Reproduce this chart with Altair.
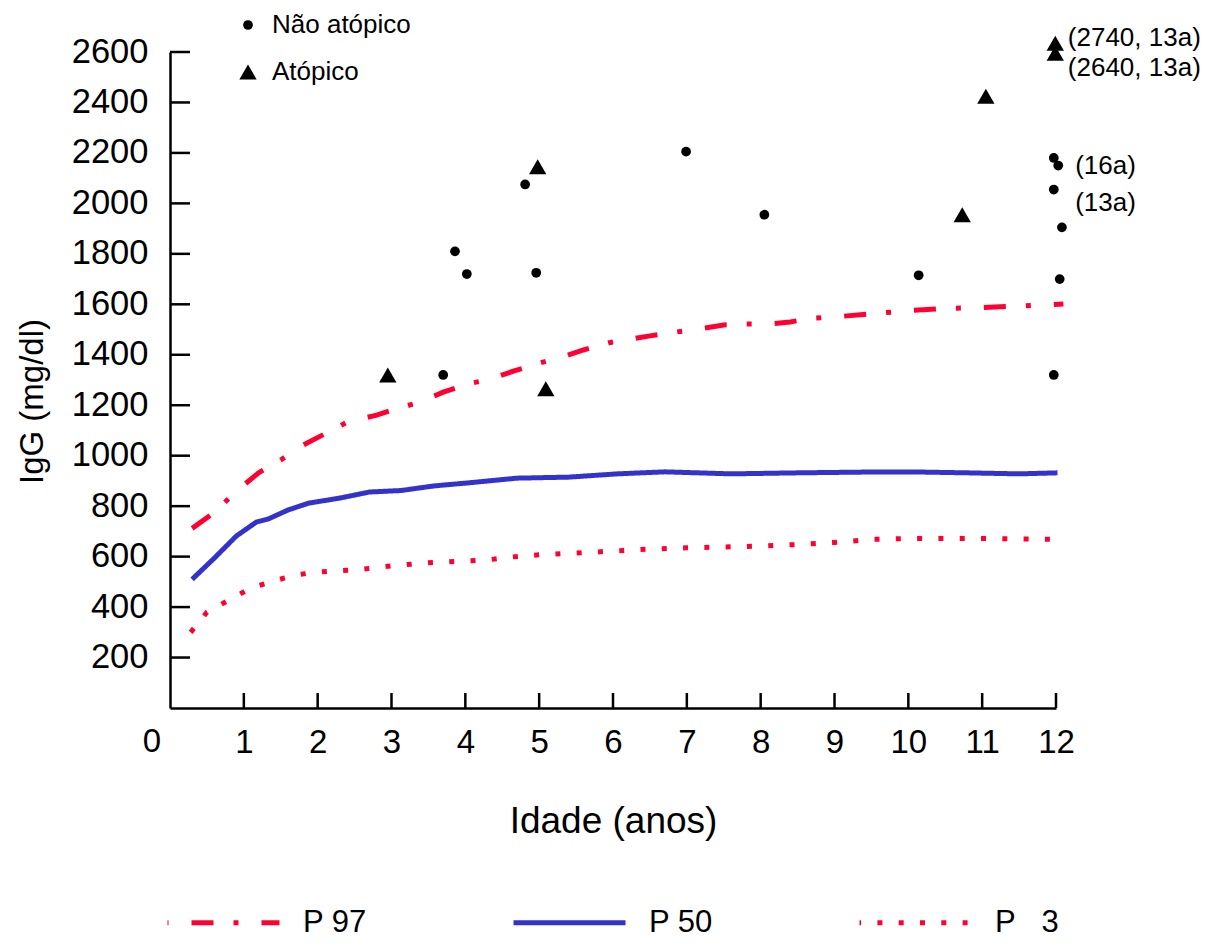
import altair as alt
import pandas as pd

# ---- data ----
group_names = ["Não atópico", "Atópico"]
nonatopic_age = [3.70, 3.86, 4.02, 4.81, 4.96, 6.99, 8.05, 10.14, 11.97, 12.03, 11.97, 12.08, 12.05, 11.97]
nonatopic_igg = [1320, 1810, 1720, 2075, 1725, 2205, 1955, 1715, 2180, 2150, 2055, 1905, 1700, 1320]
atopic_age = [2.95, 4.98, 5.09, 10.73, 11.05, 11.99, 11.99]
atopic_igg = [1320, 2145, 1265, 1955, 2425, 2635, 2595]

series_names = ["P 97", "P 50", "P\u00a0\u00a0\u00a03"]
p97_age = [0.30, 0.60, 0.90, 1.20, 1.50, 1.80, 2.20, 2.40, 2.80, 3.10, 3.40, 3.70, 4.05, 4.30, 4.65,
           5.00, 5.30, 5.60, 5.95, 6.20, 6.50, 6.85, 7.15, 7.50, 7.80, 8.10, 8.40, 8.70, 9.00, 9.50,
           10.00, 10.50, 11.00, 11.50, 12.10]
p97_igg = [712, 775, 860, 932, 983, 1042, 1102, 1133, 1161, 1189, 1213, 1252, 1286, 1300, 1335,
           1367, 1390, 1419, 1448, 1460, 1475, 1490, 1502, 1518, 1522, 1522, 1530, 1545, 1550, 1562,
           1575, 1584, 1587, 1593, 1601]
p50_age = [0.30, 0.60, 0.90, 1.17, 1.33, 1.60, 1.88, 2.30, 2.70, 3.13, 3.57, 4.03, 4.70, 5.40,
           6.06, 6.70, 7.60, 8.50, 9.40, 10.20, 10.80, 11.50, 12.02]
p50_igg = [510, 594, 682, 737, 749, 785, 812, 832, 856, 862, 880, 892, 911, 915,
           928, 936, 928, 932, 935, 935, 932, 928, 932]
p3_age = [0.28, 0.50, 0.80, 1.10, 1.40, 1.70, 2.00, 2.50, 3.00, 3.50, 4.00, 4.30, 4.60, 5.00,
          5.50, 6.00, 6.50, 7.00, 7.50, 8.00, 8.50, 9.00, 9.50, 10.00, 11.00, 12.05]
p3_igg = [300, 380, 428, 476, 503, 527, 539, 547, 563, 576, 583, 587, 598, 607,
          614, 622, 630, 635, 638, 642, 648, 656, 668, 672, 672, 668]

x_ticks = list(range(1, 13))
x_origin_label = ["0"]
y_ticks = list(range(200, 2601, 200))

ann_text = ["(2740, 13a)", "(2640, 13a)", "(16a)", "(13a)"]
ann_age = [12.16, 12.16, 12.26, 12.26]
ann_igg = [2655, 2536, 2148, 2001]

# ---- tables ----
lines_df = pd.concat([
    pd.DataFrame({"age": p97_age, "igg": p97_igg, "series": series_names[0]}),
    pd.DataFrame({"age": p50_age, "igg": p50_igg, "series": series_names[1]}),
    pd.DataFrame({"age": p3_age, "igg": p3_igg, "series": series_names[2]}),
])
points_df = pd.concat([
    pd.DataFrame({"age": nonatopic_age, "igg": nonatopic_igg, "group": group_names[0]}),
    pd.DataFrame({"age": atopic_age, "igg": atopic_igg, "group": group_names[1]}),
])
ann_df = pd.DataFrame({"age": ann_age, "igg": ann_igg, "label": ann_text})
ytick_df = pd.DataFrame({"tv": y_ticks})
xtick_df = pd.DataFrame({"tv": x_ticks})
zero_df = pd.DataFrame({"age": [0], "igg": [0], "label": x_origin_label})

FONT = "Liberation Sans"
RED = "#ff0033"
BLUE = "#3333cc"

xscale = alt.Scale(domain=[0, 12], nice=False, zero=False)
yscale = alt.Scale(domain=[0, 2600], nice=False)

xaxis = alt.Axis(values=x_ticks, format="d", ticks=False, tickSize=0, labelFontSize=33,
                 labelPadding=18, domainWidth=2.5, domainColor="black", grid=False,
                 labelFlush=False, labelOverlap=False, title="Idade (anos)", titleFontSize=37,
                 titleFontWeight="normal", titleY=124, titleBaseline="alphabetic")
yaxis = alt.Axis(values=y_ticks, format="d", ticks=False, tickSize=0, labelFontSize=34.5,
                 labelPadding=22, domainWidth=2.5, domainColor="black", grid=False,
                 labelFlush=False, labelOverlap=False, title="IgG (mg/dl)", titleFontSize=33,
                 titleFontWeight="normal", titleAngle=270, titleX=-138, titleY=349,
                 titleAlign="center", titleBaseline="middle")

line_legend = alt.Legend(orient="none", legendX=-5, legendY=812, direction="horizontal",
                         columns=3, symbolType="stroke", symbolSize=112 * 112,
                         symbolStrokeWidth=5, symbolDashOffset=46, labelFontSize=31,
                         labelOffset=21, columnPadding=136, title=None, padding=0,
                         labelColor="black", labelFont=FONT, labelLimit=300)

lines = alt.Chart(lines_df).mark_line(strokeWidth=5, strokeCap="butt").encode(
    x=alt.X("age:Q", scale=xscale, axis=xaxis),
    y=alt.Y("igg:Q", scale=yscale, axis=yaxis),
    color=alt.Color("series:N", scale=alt.Scale(domain=series_names, range=[RED, BLUE, RED]),
                    legend=line_legend),
    strokeDash=alt.StrokeDash("series:N",
                              scale=alt.Scale(domain=series_names,
                                              range=[[22, 20, 5, 23], [1, 0], [5, 16.3]]),
                              legend=line_legend),
    detail="series:N",
)

pt_legend = alt.Legend(orient="none", legendX=65, legendY=-40, direction="vertical",
                       title=None, labelFontSize=26, labelOffset=11, rowPadding=21, padding=0,
                       symbolFillColor="black", symbolStrokeColor="black", symbolStrokeWidth=0,
                       labelColor="black", labelFont=FONT, labelLimit=300)

points = alt.Chart(points_df).mark_point(filled=True, opacity=1, color="black", strokeWidth=0).encode(
    x=alt.X("age:Q", scale=xscale),
    y=alt.Y("igg:Q", scale=yscale),
    shape=alt.Shape("group:N", scale=alt.Scale(domain=group_names, range=["circle", "triangle-up"]),
                    legend=pt_legend),
    size=alt.Size("group:N", scale=alt.Scale(domain=group_names, range=[95, 300]),
                  legend=pt_legend),
)

# inward axis ticks: short rules drawn from the axis line into the plot
yticks = alt.Chart(ytick_df).mark_rule(color="black", strokeWidth=2.5).encode(
    y=alt.Y("tv:Q", scale=yscale), x=alt.value(0), x2=alt.value(20))
xticks = alt.Chart(xtick_df).mark_rule(color="black", strokeWidth=2.5).encode(
    x=alt.X("tv:Q", scale=xscale), y=alt.value(641), y2=alt.value(656))

zero_label = alt.Chart(zero_df).mark_text(fontSize=33, baseline="top", align="center", dx=-18,
                                          dy=18, font=FONT, color="black").encode(
    x=alt.X("age:Q", scale=xscale), y=alt.Y("igg:Q", scale=yscale), text="label:N")

ann = alt.Chart(ann_df).mark_text(fontSize=26, align="left", baseline="middle", font=FONT,
                                  color="black").encode(
    x=alt.X("age:Q", scale=xscale), y=alt.Y("igg:Q", scale=yscale), text="label:N")

chart = alt.layer(lines, points, zero_label, ann, yticks, xticks).properties(
    width=886, height=656,
    autosize=alt.AutoSizeParams(type="none"),
    padding={"left": 162, "top": 44, "right": 144, "bottom": 232},
).configure_view(stroke=None).configure_axis(
    labelFont=FONT, titleFont=FONT, labelColor="black", titleColor="black"
).configure_legend(labelFont=FONT)

chart.save("out.html", embed_options={"renderer": "svg", "actions": False})
